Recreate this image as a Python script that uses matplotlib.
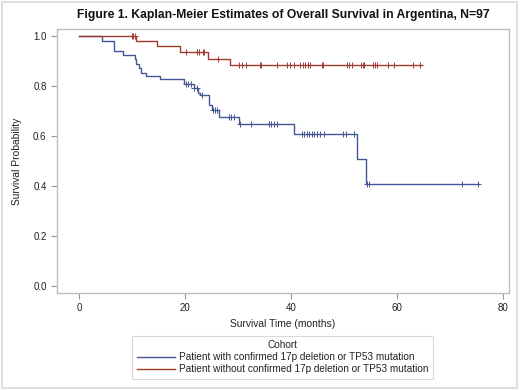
import matplotlib
matplotlib.use("Agg")
import matplotlib.pyplot as plt
from matplotlib.patches import Rectangle

plt.rcParams['font.family'] = ['Liberation Sans', 'DejaVu Sans']

# step curves (time in months, survival probability)
blue_t = [0, 4.35, 6.6, 8.3, 10.5, 10.8, 11.2, 11.7, 12.6, 15.3, 19.7, 21.6, 22.5, 22.9,
          24.6, 25.0, 26.4, 30.1, 40.5, 52.4, 54.1]
blue_s = [1.0, 0.980, 0.941, 0.924, 0.907, 0.888, 0.871, 0.851, 0.842, 0.827, 0.808, 0.791,
          0.773, 0.764, 0.724, 0.704, 0.677, 0.649, 0.608, 0.508, 0.409]
blue_end = 75.5
blue_cens = [20.1, 20.6, 21.1, 21.7, 22.2, 23.1, 25.2, 25.7, 26.1, 28.2, 28.6, 29.2, 30.4,
             32.5, 35.9, 36.2, 36.7, 37.3, 42.0, 42.5, 43.0, 43.4, 43.9, 44.4, 44.9, 45.5,
             46.3, 49.9, 50.4, 51.9, 54.4, 54.7, 72.4, 75.4]

red_t = [0, 10.8, 14.6, 19.0, 24.4, 28.5]
red_s = [1.0, 0.980, 0.960, 0.935, 0.909, 0.883]
red_end = 64.7
red_cens = [9.9, 10.2, 10.5, 20.1, 22.2, 22.7, 23.3, 23.6, 26.3, 30.2, 30.7, 31.5, 34.2, 34.4,
            37.4, 39.2, 39.8, 40.5, 41.7, 42.2, 42.7, 43.2, 43.6, 45.9, 46.1, 50.5, 51.0,
            51.5, 53.2, 53.6, 53.8, 55.4, 55.9, 56.3, 58.4, 59.5, 63.1, 64.4]

labels = ["Patient with confirmed 17p deletion or TP53 mutation",
          "Patient without confirmed 17p deletion or TP53 mutation"]
colors = ["#445694", "#A23A2E"]

x_ticks = [0, 20, 40, 60, 80]
y_ticks = [0.0, 0.2, 0.4, 0.6, 0.8, 1.0]


def surv_at(ts, ss, x):
    v = ss[0]
    for t, s in zip(ts, ss):
        if t <= x:
            v = s
    return v


fig = plt.figure(figsize=(5.2, 3.9), dpi=100)
ax = fig.add_axes([0.1096, 0.2487, 0.8694, 0.6769])

curves = [(blue_t, blue_s, blue_end, blue_cens), (red_t, red_s, red_end, red_cens)]
handles = []
for (ts, ss, end, cens), c, lab in zip(curves, colors, labels):
    h, = ax.step(ts + [end], ss + [ss[-1]], where="post", color=c, lw=1.0, label=lab)
    handles.append(h)
    ax.plot(cens, [surv_at(ts, ss, x) for x in cens], linestyle="none", marker="+",
            color=c, markersize=5, markeredgewidth=0.7)

ax.set_xlim(-4.2, 81.2)
ax.set_ylim(-0.028, 1.028)
ax.set_xticks(x_ticks)
ax.set_yticks(y_ticks)
ax.set_yticklabels(["%.1f" % v for v in y_ticks])

for sp in ax.spines.values():
    sp.set_color("#BDBDBD")
    sp.set_linewidth(1.0)
ax.tick_params(colors="#9A9A9A", labelcolor="#222222", labelsize=7.0, length=4, width=0.8)

ax.set_xlabel("Survival Time (months)", fontsize=7.4, color="#222222", labelpad=4)
ax.set_ylabel("Survival Probability", fontsize=7.4, color="#222222", labelpad=8)

fig.text(0.545, 0.962, "Figure 1. Kaplan-Meier Estimates of Overall Survival in Argentina, N=97",
         ha="center", va="center", fontsize=8.7, fontweight="bold", color="#111111")

leg = fig.legend(handles=handles, title="Cohort", loc="center", bbox_to_anchor=(0.543, 0.084),
                 fontsize=7.2, title_fontsize=7.2, frameon=True, fancybox=False,
                 handlelength=3.8, handletextpad=0.4, labelspacing=0.2, borderpad=0.45,
                 borderaxespad=0)
leg.get_frame().set_edgecolor("#D0D0D0")
leg.get_frame().set_linewidth(0.8)
for t in leg.get_texts():
    t.set_color("#222222")
leg.get_title().set_color("#222222")

# outer border of the graph
fig.patches.append(Rectangle((0.004, 0.004), 0.99, 0.99, transform=fig.transFigure,
                             fill=False, edgecolor="#E0E0E0", linewidth=1.5))

fig.savefig("out.png", dpi=100)
